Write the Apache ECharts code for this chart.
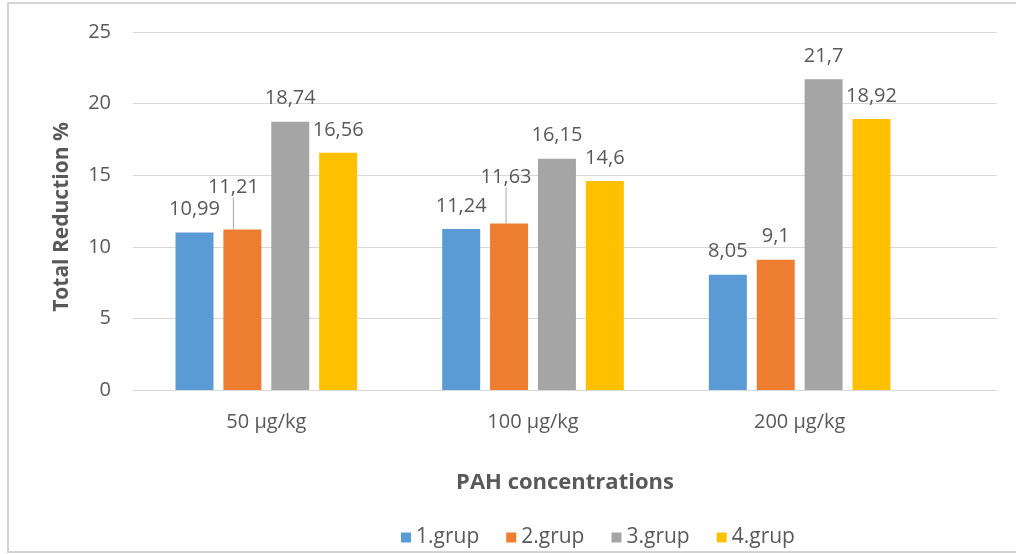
<!DOCTYPE html>
<html>
<head>
<meta charset="utf-8">
<script src="https://cdn.jsdelivr.net/npm/echarts@6/dist/echarts.min.js"></script>
<style>
  html, body { margin: 0; padding: 0; background: #ffffff; }
  #chart { width: 1016px; height: 554px; }
</style>
</head>
<body>
<div id="chart"></div>
<script>
// PAH reduction per concentration level and group
const categories = ['50 µg/kg', '100 µg/kg', '200 µg/kg'];
const groupNames = ['1.grup', '2.grup', '3.grup', '4.grup'];
const grup1 = [10.99, 11.24, 8.05];
const grup2 = [11.21, 11.63, 9.1];
const grup3 = [18.74, 16.15, 21.7];
const grup4 = [16.56, 14.6, 18.92];
const yTicks = [0, 5, 10, 15, 20, 25];

const colors = ['#5B9BD5', '#ED7D31', '#A5A5A5', '#FFC000'];
const textColor = '#595959';
const gridColor = '#D9D9D9';
const FONT = '"Open Sans", "Liberation Sans", sans-serif';

const chart = echarts.init(document.getElementById('chart'), null, { renderer: 'canvas' });

const fmt = v => String(v).replace('.', ',');

// orange labels that are lifted up-left and tied back with a guide line
const orangeShift = [{ dx: -9, dy: -19 }, { dx: -3, dy: -23 }, null];

function barSeries(name, values, idx, shifts) {
  const s = {
    name: name,
    type: 'bar',
    xAxisIndex: 1,
    yAxisIndex: 1,
    data: values.map((v, i) => (shifts && !shifts[i]) ? { value: v, labelLine: { show: false } } : v),
    barWidth: 38,
    barGap: '26%',
    itemStyle: { color: colors[idx] },
    label: {
      show: true,
      position: 'top',
      distance: 13,
      color: textColor,
      fontFamily: FONT,
      fontSize: 20,
      formatter: p => fmt(p.value)
    }
  };
  if (shifts) {
    s.labelLayout = p => shifts[p.dataIndex] || {};
    s.labelLine = { show: true, lineStyle: { color: '#A6A6A6', width: 1 } };
  }
  return s;
}

const option = {
  backgroundColor: '#ffffff',
  animation: false,
  graphic: [{
    type: 'rect',
    shape: { x: 8, y: 3, width: 1030, height: 549 },
    style: { fill: 'none', stroke: '#D4D4D4', lineWidth: 2 },
    silent: true,
    z: -10
  }],
  legend: {
    data: groupNames,
    left: 396,
    top: 522,
    icon: 'rect',
    itemWidth: 10,
    itemHeight: 10,
    itemGap: 27,
    textStyle: { color: textColor, fontFamily: FONT, fontSize: 21 }
  },
  grid: [
    // full-width frame carrying the gridlines and baseline
    { left: 133, right: 19, top: 32, bottom: 164 },
    // plotting area for the bars
    { left: 133, width: 800, top: 32, bottom: 164 }
  ],
  xAxis: [
    {
      gridIndex: 0,
      type: 'category',
      data: [''],
      axisLine: { show: true, lineStyle: { color: gridColor, width: 1 } },
      axisTick: { show: false },
      axisLabel: { show: false },
      name: 'PAH concentrations',
      nameLocation: 'middle',
      nameGap: 82,
      nameTextStyle: { color: textColor, fontFamily: FONT, fontSize: 22, fontWeight: 'bold' }
    },
    {
      gridIndex: 1,
      type: 'category',
      data: categories,
      axisLine: { show: false },
      axisTick: { show: false },
      axisLabel: { color: textColor, fontFamily: FONT, fontSize: 20, margin: 22 }
    }
  ],
  yAxis: [
    {
      gridIndex: 0,
      type: 'value',
      min: yTicks[0],
      max: yTicks[yTicks.length - 1],
      interval: yTicks[1] - yTicks[0],
      axisLine: { show: false },
      axisTick: { show: false },
      splitLine: { lineStyle: { color: gridColor, width: 1 } },
      axisLabel: { color: textColor, fontFamily: FONT, fontSize: 20, margin: 22 },
      name: 'Total Reduction %',
      nameLocation: 'middle',
      nameGap: 60,
      nameTextStyle: { color: textColor, fontFamily: FONT, fontSize: 21, fontWeight: 'bold', padding: [0, 12, 0, 0] }
    },
    {
      gridIndex: 1,
      type: 'value',
      min: yTicks[0],
      max: yTicks[yTicks.length - 1],
      show: false,
      splitLine: { show: false }
    }
  ],
  series: [
    barSeries(groupNames[0], grup1, 0),
    barSeries(groupNames[1], grup2, 1, orangeShift),
    barSeries(groupNames[2], grup3, 2),
    barSeries(groupNames[3], grup4, 3)
  ]
};

chart.setOption(option);
</script>
</body>
</html>
